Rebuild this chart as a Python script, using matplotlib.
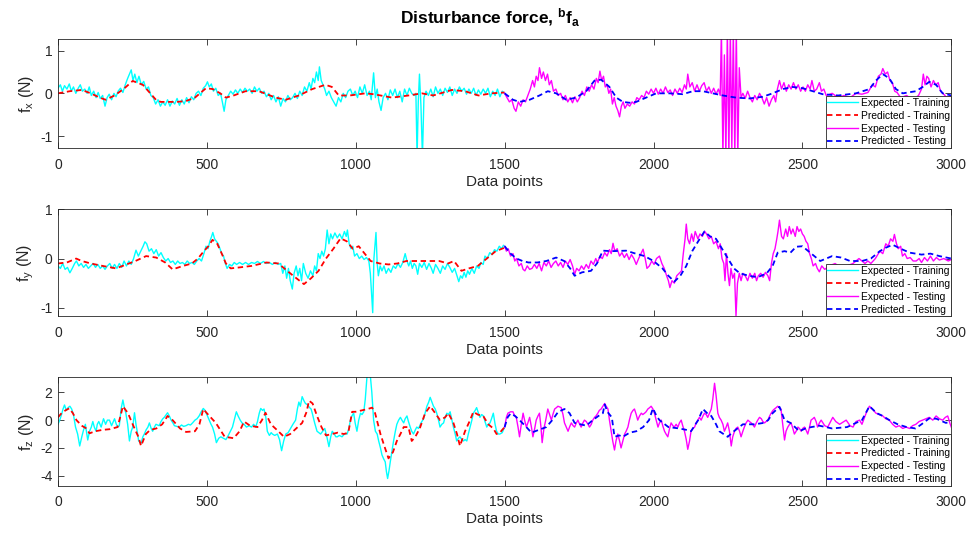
import numpy as np
import matplotlib
matplotlib.use("Agg")
import matplotlib.pyplot as plt

plt.rcParams["font.family"] = ["Liberation Sans", "DejaVu Sans"]
plt.rcParams["mathtext.fontset"] = "custom"
plt.rcParams["mathtext.rm"] = "Liberation Sans"
plt.rcParams["mathtext.it"] = "Liberation Sans:italic"
plt.rcParams["mathtext.bf"] = "Liberation Sans:bold"
plt.rcParams["axes.unicode_minus"] = False

# ---- f_x ----
fx_exp_train = [(0,0.12),(8,0.2),(15,0.05),(22,0.18),(30,0.1),(38,0.22),(45,0.05),(52,0.15),(60,0.0),(68,0.12),(75,0.2),(82,0.05),(90,0.1),(98,0.0),(105,0.15),(112,-0.05),(120,0.05),(128,-0.1),(135,0.02),(142,-0.12),(150,-0.05),(158,-0.3),(165,-0.1),(172,-0.02),(180,-0.15),(188,0.0),(195,-0.08),(202,0.05),(210,0.12),(218,0.02),(226,0.2),(234,0.35),(240,0.45),(246,0.55),(252,0.3),(258,0.45),(265,0.25),(272,0.4),(280,0.2),(288,0.28),(296,0.1),(304,0.15),(312,-0.05),(320,-0.1),(328,-0.25),(336,-0.15),(344,-0.3),(352,-0.2),(360,-0.28),(368,-0.15),(376,-0.3),(384,-0.18),(392,-0.25),(400,-0.12),(408,-0.28),(416,-0.15),(424,-0.25),(432,-0.1),(440,-0.22),(448,-0.08),(456,-0.15),(464,0.0),(472,0.05),(480,-0.05),(488,0.12),(496,0.18),(502,0.27),(508,0.15),(515,0.22),(522,0.05),(530,0.12),(538,-0.05),(546,0.0),(552,-0.2),(558,-0.42),(564,-0.15),(572,-0.05),(580,0.05),(588,-0.02),(596,0.08),(604,0.0),(612,0.1),(620,0.02),(628,0.12),(636,0.05),(644,0.1),(652,0.0),(660,0.15),(668,0.05),(676,0.12),(684,0.0),(692,0.05),(700,-0.08),(708,0.0),(716,-0.15),(724,-0.05),(732,-0.2),(740,-0.08),(748,-0.3),(756,-0.12),(764,-0.2),(772,-0.05),(780,-0.15),(788,-0.1),(796,0.0),(804,-0.12),(812,0.05),(820,-0.05),(828,0.15),(836,0.05),(844,0.25),(850,0.1),(856,0.35),(862,0.25),(868,0.5),(874,0.3),(878,0.62),(884,0.3),(890,0.2),(896,0.1),(902,-0.05),(910,0.05),(918,-0.1),(926,-0.2),(934,-0.3),(942,-0.1),(950,-0.2),(958,0.0),(966,-0.1),(974,0.05),(982,0.1),(990,-0.05),(998,0.05),(1006,-0.1),(1014,0.15),(1022,0.0),(1030,0.2),(1038,-0.05),(1046,0.05),(1052,-0.15),(1060,0.48),(1066,-0.1),(1072,0.1),(1078,-0.2),(1085,-0.4),(1092,-0.1),(1100,0.0),(1108,-0.15),(1116,0.08),(1124,-0.05),(1132,0.1),(1140,-0.1),(1148,0.05),(1156,-0.2),(1164,0.1),(1172,-0.05),(1180,0.12),(1188,0.0),(1196,-0.05),(1202,0.0),(1206,-1.5),(1210,-0.2),(1214,0.45),(1219,-0.3),(1224,-1.5),(1229,-0.1),(1236,0.05),(1244,-0.05),(1252,0.1),(1260,-0.08),(1268,0.15),(1276,0.0),(1284,0.1),(1292,-0.05),(1300,0.12),(1308,0.02),(1316,0.15),(1324,-0.05),(1332,0.1),(1340,0.0),(1348,0.15),(1356,0.05),(1364,0.12),(1372,-0.02),(1380,0.1),(1388,0.0),(1396,0.12),(1404,-0.05),(1412,0.08),(1420,-0.02),(1428,0.1),(1436,0.0),(1444,0.12),(1452,-0.08),(1460,0.05),(1468,-0.05),(1476,0.1),(1484,-0.08),(1492,0.05),(1500,0.0)]
fx_pred_train = [(0,0.0),(40,0.05),(80,0.08),(110,0.0),(140,-0.1),(160,-0.15),(190,-0.05),(220,0.1),(251,0.29),(285,0.2),(310,0.0),(329,-0.15),(345,-0.2),(400,-0.2),(430,-0.18),(460,-0.1),(497,0.12),(520,0.1),(545,0.0),(564,-0.1),(590,-0.05),(630,0.05),(675,0.05),(731,-0.1),(765,-0.15),(809,-0.05),(854,0.1),(898,0.2),(920,0.15),(943,-0.05),(980,-0.05),(1032,0.0),(1060,-0.02),(1122,-0.1),(1177,-0.05),(1222,0.0),(1260,-0.05),(1323,0.08),(1367,0.05),(1412,-0.05),(1456,0.0),(1500,0.02)]
fx_exp_test = [(1500,0.0),(1508,-0.1),(1516,-0.2),(1524,-0.15),(1532,-0.35),(1538,-0.42),(1546,-0.2),(1554,-0.3),(1562,-0.15),(1570,-0.2),(1578,-0.05),(1586,0.1),(1594,0.3),(1600,0.15),(1606,0.4),(1612,0.3),(1617,0.6),(1624,0.35),(1630,0.5),(1637,0.3),(1644,0.45),(1650,0.2),(1657,0.3),(1664,0.05),(1672,0.1),(1680,-0.05),(1688,0.0),(1696,-0.15),(1704,-0.05),(1712,-0.2),(1720,-0.1),(1728,-0.22),(1736,-0.08),(1744,-0.2),(1752,-0.1),(1760,0.05),(1768,-0.05),(1776,0.15),(1784,0.05),(1792,0.2),(1800,0.1),(1808,0.35),(1814,0.25),(1820,0.52),(1826,0.3),(1832,0.4),(1838,0.15),(1844,0.2),(1850,0.0),(1856,0.1),(1862,-0.25),(1868,-0.1),(1874,-0.3),(1880,-0.4),(1886,-0.55),(1892,-0.3),(1898,-0.2),(1904,-0.35),(1912,-0.25),(1920,-0.3),(1928,-0.2),(1936,-0.25),(1944,-0.1),(1952,-0.15),(1960,-0.05),(1968,-0.1),(1976,0.05),(1984,-0.02),(1992,0.1),(2000,0.0),(2008,0.12),(2016,-0.02),(2024,0.1),(2032,0.0),(2040,0.15),(2048,0.02),(2056,0.08),(2064,-0.05),(2072,0.1),(2080,0.0),(2088,0.12),(2096,0.02),(2104,0.2),(2110,0.1),(2115,0.45),(2122,0.15),(2130,0.25),(2138,0.05),(2146,0.2),(2154,0.05),(2162,0.18),(2170,0.25),(2178,0.05),(2186,0.15),(2194,0.0),(2202,0.12),(2210,-0.02),(2218,0.1),(2224,-0.05),(2228,1.5),(2233,-1.5),(2238,0.9),(2243,-1.5),(2248,1.5),(2253,-1.5),(2258,1.5),(2263,-1.3),(2268,1.5),(2273,-1.5),(2278,1.5),(2283,-1.5),(2288,0.6),(2294,-0.1),(2300,0.0),(2308,-0.12),(2316,0.05),(2324,-0.1),(2332,-0.2),(2340,-0.05),(2348,-0.15),(2356,0.0),(2364,-0.1),(2372,-0.25),(2380,-0.1),(2388,-0.3),(2396,-0.15),(2404,-0.05),(2410,-0.2),(2416,0.1),(2423,0.3),(2430,0.1),(2438,0.25),(2446,0.05),(2454,0.2),(2462,0.1),(2470,0.25),(2478,0.1),(2486,0.2),(2494,0.05),(2502,0.15),(2510,0.05),(2518,0.2),(2526,0.1),(2532,0.3),(2540,0.05),(2548,0.1),(2557,0.25),(2564,0.05),(2572,0.1),(2580,-0.05),(2600,0.0),(2620,-0.1),(2640,-0.05),(2660,-0.1),(2680,0.0),(2700,-0.02),(2720,0.02),(2735,0.2),(2745,0.15),(2755,0.4),(2764,0.45),(2770,0.58),(2778,0.45),(2786,0.5),(2794,0.3),(2802,0.25),(2810,0.05),(2818,0.02),(2830,-0.1),(2850,-0.05),(2870,-0.15),(2890,-0.05),(2900,0.1),(2906,0.45),(2912,0.2),(2918,0.4),(2924,0.35),(2932,0.15),(2940,0.3),(2948,0.2),(2956,0.25),(2964,0.05),(2972,0.0),(2985,-0.1),(3000,-0.05)]
fx_pred_test = [(1500,0.0),(1528,-0.15),(1550,-0.2),(1584,-0.15),(1617,-0.05),(1645,0.05),(1673,0.0),(1707,-0.15),(1740,-0.1),(1774,0.05),(1802,0.3),(1824,0.32),(1852,0.15),(1875,-0.1),(1897,-0.2),(1919,-0.22),(1942,-0.2),(1975,-0.1),(2009,0.0),(2054,0.0),(2098,-0.02),(2132,0.05),(2166,0.05),(2199,0.0),(2233,-0.05),(2277,-0.1),(2322,-0.12),(2367,-0.08),(2400,0.0),(2434,0.1),(2467,0.15),(2501,0.12),(2535,0.05),(2568,-0.02),(2620,-0.05),(2680,0.0),(2725,0.1),(2747,0.3),(2770,0.45),(2792,0.35),(2814,0.1),(2837,0.0),(2881,0.05),(2904,0.15),(2926,0.27),(2949,0.2),(2971,0.0),(3000,-0.05)]

# ---- f_y ----
fy_exp_train = [(0,-0.15),(8,-0.2),(16,-0.1),(24,-0.22),(32,-0.18),(40,-0.29),(48,-0.2),(56,-0.1),(62,-0.05),(70,-0.15),(78,-0.1),(86,-0.18),(94,-0.12),(102,-0.2),(110,-0.15),(118,-0.1),(126,-0.18),(134,-0.12),(142,-0.2),(150,-0.15),(158,-0.22),(166,-0.15),(174,-0.1),(182,-0.2),(190,-0.12),(198,-0.2),(206,-0.1),(214,-0.18),(222,-0.05),(230,-0.15),(238,-0.05),(246,-0.12),(254,0.0),(262,0.17),(270,0.05),(278,0.15),(286,0.25),(292,0.34),(298,0.3),(306,0.15),(314,0.2),(322,0.1),(330,0.18),(338,0.05),(346,0.12),(354,0.02),(362,-0.05),(370,0.0),(378,-0.08),(386,-0.05),(394,-0.12),(402,-0.05),(410,-0.1),(418,-0.08),(426,-0.12),(434,-0.05),(442,-0.1),(450,-0.08),(458,-0.12),(466,-0.05),(474,0.0),(482,-0.05),(490,0.1),(497,0.25),(504,0.2),(510,0.35),(516,0.45),(520,0.53),(526,0.4),(532,0.35),(538,0.3),(544,0.2),(550,0.1),(556,0.05),(562,-0.1),(568,-0.2),(576,-0.12),(584,-0.15),(592,-0.08),(600,-0.12),(610,-0.08),(620,-0.12),(630,-0.08),(640,-0.12),(650,-0.08),(660,-0.1),(670,-0.06),(680,-0.1),(690,-0.06),(700,-0.1),(710,-0.08),(720,-0.12),(730,-0.08),(740,-0.12),(748,-0.1),(755,-0.3),(762,-0.15),(768,-0.4),(774,-0.2),(780,-0.45),(787,-0.62),(793,-0.3),(800,-0.15),(806,-0.35),(812,-0.2),(818,-0.45),(824,-0.1),(832,-0.3),(840,-0.4),(848,-0.25),(856,-0.35),(862,-0.15),(868,-0.25),(874,0.1),(880,0.0),(886,0.15),(892,0.05),(898,0.2),(904,0.58),(910,0.3),(916,0.5),(922,0.4),(930,0.52),(938,0.42),(946,0.5),(954,0.4),(962,0.55),(968,0.45),(972,0.58),(978,0.3),(984,0.2),(990,0.25),(996,0.05),(1004,0.1),(1012,0.0),(1020,0.05),(1028,-0.02),(1036,0.02),(1044,-0.05),(1049,-0.3),(1054,-0.8),(1057,-1.1),(1061,0.0),(1065,0.3),(1068,0.53),(1072,-0.1),(1076,-0.35),(1082,-0.15),(1088,-0.25),(1095,-0.15),(1102,-0.3),(1110,-0.2),(1118,-0.28),(1126,-0.15),(1134,-0.2),(1142,-0.1),(1150,-0.18),(1158,-0.08),(1166,0.1),(1172,-0.05),(1178,-0.15),(1184,-0.05),(1190,-0.2),(1196,-0.1),(1202,-0.15),(1208,-0.32),(1214,-0.1),(1222,-0.18),(1230,-0.08),(1238,-0.22),(1246,-0.1),(1254,-0.2),(1260,-0.3),(1268,-0.12),(1276,-0.2),(1284,-0.3),(1292,-0.15),(1300,-0.22),(1308,-0.1),(1316,-0.18),(1324,-0.28),(1332,-0.2),(1340,-0.35),(1346,-0.47),(1352,-0.35),(1358,-0.4),(1364,-0.28),(1370,-0.38),(1376,-0.25),(1382,-0.32),(1390,-0.2),(1398,-0.3),(1406,-0.15),(1414,-0.2),(1420,-0.08),(1428,-0.12),(1434,0.05),(1442,0.0),(1450,0.12),(1458,0.08),(1466,0.18),(1474,0.15),(1482,0.25),(1490,0.2),(1496,0.27),(1500,0.25)]
fy_pred_train = [(0,-0.1),(30,-0.08),(61,0.0),(80,-0.05),(110,-0.1),(150,-0.15),(195,-0.2),(230,-0.12),(260,-0.05),(296,0.05),(330,0.02),(360,-0.08),(385,-0.22),(420,-0.15),(450,-0.1),(470,0.0),(490,0.15),(505,0.25),(519,0.38),(535,0.3),(550,0.1),(564,-0.1),(580,-0.2),(610,-0.18),(650,-0.15),(700,-0.08),(740,-0.1),(760,-0.2),(790,-0.35),(826,-0.52),(850,-0.4),(875,-0.25),(900,0.0),(925,0.2),(949,0.41),(970,0.35),(990,0.2),(1010,0.25),(1030,0.1),(1050,-0.05),(1080,-0.1),(1110,-0.12),(1140,-0.1),(1170,-0.05),(1200,-0.05),(1240,-0.05),(1280,-0.05),(1310,-0.1),(1330,-0.05),(1355,-0.25),(1380,-0.2),(1410,-0.15),(1440,0.0),(1470,0.15),(1500,0.22)]
fy_exp_test = [(1500,0.25),(1506,0.15),(1512,0.2),(1520,0.05),(1528,0.1),(1534,-0.05),(1540,0.0),(1548,-0.15),(1556,-0.1),(1562,-0.22),(1568,-0.25),(1576,-0.15),(1584,-0.22),(1592,-0.2),(1600,-0.12),(1608,-0.2),(1616,-0.1),(1624,-0.25),(1632,-0.08),(1640,-0.15),(1648,-0.05),(1656,-0.18),(1664,-0.1),(1672,-0.05),(1680,-0.15),(1688,-0.08),(1696,-0.18),(1704,-0.05),(1712,-0.12),(1720,-0.02),(1728,-0.15),(1735,-0.32),(1742,-0.2),(1750,-0.25),(1758,-0.15),(1766,-0.22),(1774,-0.12),(1782,-0.2),(1790,-0.05),(1798,-0.12),(1806,0.0),(1812,-0.08),(1820,0.05),(1828,0.0),(1836,0.12),(1844,0.05),(1852,0.18),(1858,0.1),(1864,0.31),(1870,0.15),(1878,0.2),(1886,0.05),(1894,0.12),(1902,0.02),(1910,0.1),(1918,-0.02),(1926,0.08),(1934,0.0),(1942,-0.12),(1950,0.0),(1958,0.1),(1965,0.19),(1972,0.0),(1978,-0.2),(1986,-0.15),(1994,-0.05),(2002,-0.12),(2010,0.0),(2020,0.05),(2028,-0.1),(2036,-0.2),(2044,-0.35),(2050,-0.45),(2055,-0.59),(2062,-0.45),(2070,-0.5),(2078,-0.35),(2086,-0.3),(2094,-0.25),(2100,0.1),(2106,0.4),(2110,0.7),(2115,0.4),(2121,0.3),(2128,0.5),(2134,0.35),(2140,0.55),(2149,0.4),(2156,0.5),(2164,0.45),(2172,0.55),(2178,0.5),(2186,0.4),(2194,0.45),(2202,0.3),(2210,0.35),(2218,0.2),(2224,0.3),(2230,0.0),(2236,-0.1),(2240,-0.45),(2245,0.1),(2250,-0.3),(2255,-0.55),(2260,-0.2),(2266,-0.4),(2272,-0.3),(2277,-1.17),(2282,-0.5),(2288,-0.3),(2294,-0.45),(2300,-0.3),(2308,-0.35),(2316,-0.45),(2324,-0.3),(2332,-0.4),(2340,-0.3),(2346,-0.45),(2352,-0.35),(2360,-0.3),(2368,-0.38),(2376,-0.28),(2384,-0.35),(2390,-0.45),(2396,-0.1),(2402,0.1),(2408,0.2),(2414,0.4),(2418,0.55),(2423,0.78),(2430,0.45),(2436,0.4),(2444,0.6),(2450,0.45),(2456,0.65),(2462,0.5),(2468,0.6),(2476,0.45),(2482,0.65),(2488,0.55),(2494,0.6),(2500,0.5),(2506,0.45),(2512,0.35),(2518,0.3),(2524,0.1),(2530,0.0),(2536,-0.15),(2544,-0.1),(2550,-0.2),(2557,-0.27),(2565,-0.15),(2575,-0.22),(2590,-0.15),(2610,-0.1),(2630,-0.2),(2650,-0.15),(2670,-0.1),(2690,0.0),(2700,-0.05),(2710,-0.1),(2720,-0.05),(2730,-0.1),(2745,0.0),(2760,0.15),(2770,0.1),(2780,0.3),(2788,0.25),(2796,0.4),(2804,0.35),(2809,0.49),(2816,0.3),(2822,0.2),(2830,0.25),(2836,0.05),(2844,0.1),(2852,0.0),(2862,0.02),(2872,-0.05),(2882,-0.05),(2892,0.0),(2900,-0.08),(2910,0.02),(2920,-0.05),(2930,0.05),(2940,-0.05),(2950,0.02),(2960,-0.03),(2975,0.0),(2990,-0.05),(3000,-0.02)]
fy_pred_test = [(1500,0.25),(1520,0.1),(1540,0.0),(1560,-0.05),(1580,-0.08),(1610,-0.08),(1640,-0.05),(1673,0.02),(1700,-0.05),(1720,-0.2),(1735,-0.35),(1760,-0.28),(1790,-0.25),(1810,-0.1),(1830,0.16),(1860,0.15),(1908,0.16),(1940,0.1),(1970,0.05),(2000,-0.05),(2030,-0.2),(2050,-0.35),(2070,-0.47),(2090,-0.35),(2110,-0.15),(2130,0.15),(2150,0.35),(2171,0.55),(2190,0.45),(2210,0.4),(2230,0.2),(2250,0.0),(2270,-0.2),(2290,-0.3),(2320,-0.35),(2350,-0.38),(2380,-0.3),(2400,-0.15),(2417,0.12),(2440,0.15),(2460,0.12),(2479,0.24),(2500,0.25),(2520,0.15),(2540,0.05),(2560,-0.05),(2580,0.0),(2600,0.05),(2630,0.02),(2660,-0.05),(2700,-0.05),(2730,0.0),(2760,0.15),(2780,0.22),(2803,0.28),(2830,0.2),(2860,0.12),(2900,0.08),(2930,0.1),(2960,0.05),(3000,0.0)]

# ---- f_z ----
fz_exp_train = [(0,-0.3),(6,0.0),(12,0.4),(17,0.8),(22,1.09),(28,0.7),(34,0.9),(40,1.0),(46,0.8),(52,0.4),(59,-0.5),(66,-1.0),(73,-1.86),(80,-1.2),(86,-0.7),(92,-0.3),(100,-1.43),(106,-0.8),(112,-0.5),(117,-0.1),(122,-0.5),(128,-0.8),(132,-0.3),(137,-0.1),(145,-0.5),(153,0.1),(160,-0.3),(166,0.0),(173,0.0),(180,-0.4),(186,-0.1),(190,0.1),(196,-0.3),(201,-0.5),(206,-0.4),(212,0.8),(218,1.45),(224,0.8),(228,0.5),(234,-0.3),(240,-1.5),(246,-0.8),(251,-0.5),(257,0.53),(262,-0.3),(266,-0.8),(271,-1.5),(279,-1.67),(285,-1.2),(290,-1.0),(296,-0.7),(302,-0.5),(307,-0.2),(313,-0.6),(318,-0.8),(324,-0.5),(329,-0.3),(335,-0.35),(340,-0.4),(346,-0.1),(352,0.1),(357,0.2),(362,0.35),(368,0.53),(374,0.3),(380,0.0),(386,-0.2),(391,-0.4),(399,-0.45),(407,-0.5),(415,-0.35),(422,-0.45),(430,-0.4),(438,-0.3),(445,-0.35),(452,-0.2),(460,0.0),(467,0.1),(474,0.3),(481,0.6),(488,0.84),(494,0.7),(502,0.3),(508,0.0),(514,-0.3),(519,-0.5),(526,-1.0),(532,-1.62),(540,-1.3),(547,-1.2),(555,-1.3),(564,-1.4),(572,-1.1),(579,-0.8),(586,-0.5),(592,0.0),(599,0.6),(605,0.3),(612,0.0),(618,-0.2),(625,-0.3),(633,-0.5),(642,-0.4),(650,-0.5),(657,-0.3),(664,-0.5),(670,-0.1),(676,0.5),(681,0.84),(687,0.7),(692,0.8),(698,0.2),(703,-0.8),(710,-1.1),(716,-0.9),(720,-1.0),(728,-1.1),(737,-1.0),(744,-1.4),(751,-2.2),(758,-1.5),(765,-1.0),(773,-0.9),(781,-0.6),(789,-0.3),(798,0.0),(804,0.8),(809,1.3),(814,1.0),(820,1.69),(826,1.4),(831,1.2),(838,1.1),(845,0.9),(850,0.8),(854,0.5),(862,-0.2),(870,-0.8),(876,-0.9),(882,-1.0),(889,-0.8),(896,-0.6),(903,-1.2),(910,-1.91),(916,-1.2),(921,-0.8),(928,-1.0),(933,-1.2),(938,-1.2),(945,-1.1),(954,-1.2),(962,-1.0),(971,-1.0),(977,-0.6),(982,0.0),(987,0.3),(993,0.5),(998,-0.2),(1004,-0.8),(1010,0.0),(1016,0.5),(1021,0.4),(1027,0.6),(1032,1.5),(1038,3.2),(1049,3.2),(1054,2.0),(1060,0.0),(1066,-0.8),(1072,-1.0),(1077,-1.5),(1083,-2.0),(1088,-2.5),(1094,-2.8),(1099,-3.0),(1103,-3.7),(1107,-4.2),(1112,-3.6),(1116,-3.0),(1122,-2.2),(1127,-1.5),(1133,-0.8),(1138,-0.3),(1144,0.0),(1150,0.2),(1155,0.0),(1161,-0.2),(1166,0.1),(1172,0.3),(1177,-0.1),(1183,-0.5),(1188,-0.8),(1194,-1.0),(1200,-0.7),(1205,-0.5),(1211,-0.6),(1217,-0.3),(1222,-0.1),(1228,0.1),(1233,0.5),(1239,1.0),(1245,1.3),(1250,1.64),(1256,1.3),(1261,1.0),(1267,0.8),(1272,0.5),(1278,0.0),(1283,-0.5),(1289,-0.3),(1295,-0.2),(1300,0.2),(1306,0.5),(1311,0.4),(1317,0.6),(1322,0.1),(1328,-0.5),(1334,-1.0),(1339,-1.5),(1345,-1.3),(1350,-1.2),(1356,-1.4),(1362,-1.5),(1367,-1.4),(1373,-1.5),(1378,-1.0),(1384,-0.5),(1390,0.0),(1395,0.5),(1401,0.7),(1406,0.9),(1412,0.5),(1417,0.2),(1423,0.4),(1429,0.3),(1434,-0.1),(1440,-0.5),(1445,-0.3),(1451,-0.2),(1456,0.1),(1462,0.5),(1468,-0.3),(1473,-0.8),(1479,-1.0),(1484,-1.0),(1492,-0.9),(1500,-0.5)]
fz_pred_train = [(0,0.2),(12,0.5),(25,0.7),(38,0.85),(50,0.5),(62,0.0),(80,-0.4),(95,-0.6),(106,-0.95),(125,-0.8),(150,-0.7),(175,-0.65),(200,-0.5),(210,0.3),(218,1.0),(235,0.5),(255,-0.5),(270,-1.2),(279,-1.86),(295,-1.0),(310,-0.7),(330,-0.6),(350,-0.3),(368,0.3),(385,0.0),(410,-0.6),(430,-0.85),(460,-0.8),(475,-0.3),(488,0.8),(500,0.5),(530,-0.2),(560,-1.2),(590,-1.3),(610,-0.8),(625,-0.1),(645,-0.4),(670,-0.5),(685,0.0),(697,0.53),(715,-0.3),(740,-0.8),(759,-1.2),(780,-1.0),(800,-0.6),(820,-0.2),(835,0.6),(843,1.4),(855,1.2),(870,0.3),(885,-0.5),(900,-1.1),(920,-1.0),(940,-0.9),(960,-1.0),(975,-0.9),(988,0.6),(999,0.6),(1020,0.7),(1040,0.8),(1055,0.9),(1065,0.5),(1083,-1.0),(1095,-1.8),(1110,-2.75),(1125,-2.3),(1138,-1.5),(1150,-1.0),(1161,-0.5),(1177,-0.5),(1188,-1.5),(1200,-1.2),(1215,-0.6),(1233,0.5),(1250,1.0),(1267,0.5),(1283,0.0),(1300,0.2),(1311,0.5),(1328,-0.2),(1340,-1.0),(1350,-1.86),(1367,-0.8),(1384,0.0),(1395,0.6),(1410,0.4),(1428,0.3),(1445,-0.3),(1462,-0.6),(1473,-1.0),(1484,-0.9),(1500,-0.5)]
fz_exp_test = [(1500,-0.5),(1506,0.2),(1511,0.5),(1520,0.6),(1528,0.6),(1534,0.3),(1539,0.2),(1545,-0.5),(1550,-1.2),(1556,-0.3),(1562,0.5),(1567,0.0),(1573,-0.5),(1578,-0.2),(1584,0.2),(1590,-0.5),(1595,-1.2),(1601,-0.6),(1606,0.0),(1612,0.3),(1617,0.5),(1622,-0.5),(1626,-1.62),(1632,-0.6),(1638,0.0),(1645,0.8),(1651,0.4),(1657,0.0),(1662,0.4),(1668,0.8),(1674,0.9),(1679,1.0),(1685,0.95),(1690,0.9),(1696,0.4),(1701,-0.2),(1707,-0.5),(1713,-0.8),(1718,-0.5),(1724,-0.2),(1730,-0.4),(1735,-0.5),(1741,-0.2),(1746,0.0),(1752,-0.3),(1757,-0.5),(1763,-0.2),(1768,0.0),(1774,-0.1),(1780,-0.3),(1785,-0.5),(1791,-0.3),(1796,0.0),(1802,0.2),(1807,0.3),(1813,0.5),(1818,0.7),(1824,0.8),(1830,1.0),(1836,1.2),(1841,1.0),(1847,0.8),(1852,0.0),(1858,-0.8),(1863,-1.5),(1869,-2.15),(1874,-1.5),(1880,-1.0),(1886,-1.5),(1891,-2.0),(1897,-1.5),(1903,-1.0),(1908,-0.8),(1914,-0.5),(1919,0.0),(1925,0.5),(1931,0.7),(1936,0.8),(1942,0.4),(1947,0.0),(1953,0.3),(1959,0.5),(1964,0.4),(1970,0.5),(1975,0.6),(1981,0.8),(1987,0.9),(1992,1.0),(1998,0.8),(2003,0.5),(2009,0.0),(2015,-0.5),(2020,-0.2),(2026,0.0),(2031,-0.4),(2037,-0.8),(2042,-1.0),(2048,-1.2),(2054,-0.6),(2059,-0.2),(2065,-0.4),(2070,-0.5),(2076,-0.3),(2082,-0.5),(2087,-0.2),(2093,0.0),(2098,-0.4),(2104,-0.8),(2110,-1.4),(2115,-2.1),(2121,-1.5),(2126,-0.8),(2132,-0.6),(2138,-0.5),(2143,-0.2),(2149,0.0),(2154,0.2),(2160,0.0),(2166,0.3),(2171,0.5),(2177,0.4),(2182,0.2),(2188,0.5),(2194,0.8),(2199,1.5),(2205,2.65),(2210,1.8),(2216,0.5),(2221,0.2),(2227,0.0),(2233,-0.3),(2238,-0.8),(2244,-0.5),(2249,-0.2),(2255,-0.8),(2261,-1.86),(2266,-1.2),(2272,-0.8),(2277,-0.6),(2283,-0.5),(2289,-0.8),(2294,-1.2),(2300,-0.8),(2305,-0.5),(2311,-0.2),(2317,0.0),(2322,-0.1),(2328,-0.2),(2333,-0.3),(2339,-0.5),(2345,-0.2),(2350,0.0),(2356,0.2),(2362,0.1),(2367,-0.1),(2373,-0.2),(2378,-0.1),(2384,0.0),(2390,0.3),(2395,0.5),(2401,0.7),(2406,0.8),(2412,0.9),(2417,1.0),(2423,0.9),(2428,0.8),(2434,-0.3),(2440,-1.43),(2445,-0.8),(2451,-0.5),(2457,-0.3),(2462,-0.2),(2468,-0.6),(2473,-1.0),(2479,-0.8),(2485,-0.5),(2490,-0.6),(2496,-0.8),(2501,-0.6),(2507,-0.5),(2512,-0.7),(2518,-1.0),(2524,-0.5),(2529,0.0),(2535,0.1),(2540,0.2),(2546,-0.1),(2551,-0.5),(2557,-0.2),(2563,0.0),(2575,-0.4),(2585,-0.5),(2602,0.2),(2612,-0.1),(2625,-0.3),(2640,-0.1),(2647,0.0),(2660,-0.4),(2670,-0.5),(2680,-0.1),(2692,0.0),(2700,-0.3),(2714,0.5),(2725,1.0),(2735,0.8),(2747,0.5),(2758,0.4),(2770,0.3),(2780,0.1),(2792,0.0),(2803,-0.3),(2814,-0.5),(2825,-0.4),(2837,-0.6),(2848,-0.5),(2860,-0.6),(2870,-0.4),(2881,-0.3),(2892,-0.1),(2904,0.0),(2915,0.1),(2926,0.2),(2938,0.0),(2949,0.3),(2960,0.1),(2971,0.0),(2980,0.2),(2988,0.3),(2995,-0.2),(3000,-0.5)]
fz_pred_test = [(1500,-0.5),(1510,0.2),(1520,0.48),(1535,0.3),(1550,0.0),(1573,-0.5),(1590,-0.9),(1615,-0.7),(1640,-0.5),(1660,0.0),(1680,0.6),(1701,0.8),(1718,0.5),(1735,-0.2),(1755,-0.3),(1774,-0.4),(1796,0.0),(1815,0.3),(1830,0.5),(1836,1.13),(1845,0.6),(1860,0.2),(1869,-1.2),(1885,-1.1),(1897,-1.2),(1920,-0.9),(1942,-0.8),(1965,-0.5),(1985,0.0),(1998,0.85),(2010,0.3),(2020,0.0),(2050,-0.5),(2087,-0.6),(2110,-0.7),(2126,-0.8),(2150,0.0),(2166,0.8),(2180,0.5),(2194,0.3),(2210,-0.3),(2221,-0.8),(2249,-1.2),(2270,-0.8),(2300,-0.3),(2339,-0.3),(2370,-0.2),(2385,0.0),(2400,0.5),(2423,0.96),(2440,0.0),(2460,-0.2),(2490,-0.8),(2510,-0.6),(2530,-0.5),(2557,-0.4),(2600,-0.6),(2650,-0.5),(2700,0.0),(2725,1.0),(2750,0.5),(2770,0.3),(2792,0.0),(2820,-0.3),(2850,-0.5),(2880,-0.6),(2900,-0.3),(2926,0.13),(2950,0.1),(2982,-0.2),(3000,-0.1)]

panels = [
    ("x", fx_exp_train, fx_pred_train, fx_exp_test, fx_pred_test, (-1.28, 1.27), [-1, 0, 1]),
    ("y", fy_exp_train, fy_pred_train, fy_exp_test, fy_pred_test, (-1.17, 1.0), [-1, 0, 1]),
    ("z", fz_exp_train, fz_pred_train, fz_exp_test, fz_pred_test, (-4.72, 3.08), [-4, -2, 0, 2]),
]
labels = ["Expected - Training", "Predicted - Training", "Expected - Testing", "Predicted - Testing"]
xticks = [0, 500, 1000, 1500, 2000, 2500, 3000]

fig = plt.figure(figsize=(9.71, 5.34), dpi=100)
boxes = [[0.0597, 0.7228, 0.92, 0.204], [0.0597, 0.408, 0.92, 0.2], [0.0597, 0.0904, 0.92, 0.203]]
edge = "#262626"

for box, (comp, et, pt, es, ps, ylim, yticks) in zip(boxes, panels):
    ax = fig.add_axes(box)
    x, y = np.array(et).T
    ax.plot(x, y, color="#00FFFF", lw=1.0, label=labels[0])
    x, y = np.array(pt).T
    ax.plot(x, y, color="#FF0000", lw=1.3, ls=(0, (3, 2)), label=labels[1])
    x, y = np.array(es).T
    ax.plot(x, y, color="#FF00FF", lw=1.0, label=labels[2])
    x, y = np.array(ps).T
    ax.plot(x, y, color="#0000FF", lw=1.3, ls=(0, (3, 2)), label=labels[3])
    ax.set_xlim(0, 3000)
    ax.set_ylim(*ylim)
    ax.set_xticks(xticks)
    ax.set_yticks(yticks)
    ax.tick_params(direction="in", top=True, right=True, length=4, width=0.6,
                   colors=edge, labelsize=10)
    ax.tick_params(axis="x", pad=7)
    ax.tick_params(axis="y", pad=4)
    for s in ax.spines.values():
        s.set_color(edge)
        s.set_linewidth(0.6)
    ax.set_xlabel("Data points", fontsize=11, color=edge, labelpad=2)
    ax.set_ylabel(r"f$_\mathregular{%s}$ (N)" % comp, fontsize=11.5, color=edge)
    ax.yaxis.set_label_coords(-0.025, 0.5)
    leg = ax.legend(loc="lower right", fontsize=7.4, borderaxespad=0, fancybox=False,
                    framealpha=1, edgecolor=edge, handlelength=3.0, handletextpad=0.25,
                    borderpad=0.15, labelspacing=0.28)
    leg.get_frame().set_linewidth(0.6)

fig.text(0.5046, 0.966, r"Disturbance force, $^\mathbf{b}$f$_\mathbf{a}$", ha="center", va="center",
         fontsize=12.5, fontweight="bold", color="black")

fig.savefig("out.png", dpi=100)
